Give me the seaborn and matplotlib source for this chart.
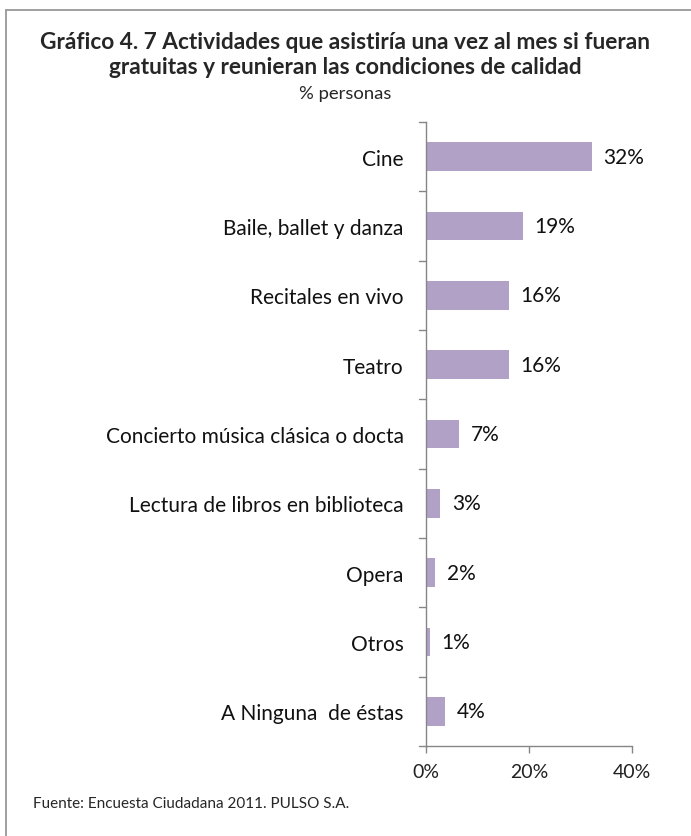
import matplotlib
matplotlib.use("Agg")
import matplotlib.pyplot as plt
import seaborn as sns
import pandas as pd
from matplotlib.lines import Line2D

# data
actividades = [
    "Cine",
    "Baile, ballet y danza",
    "Recitales en vivo",
    "Teatro",
    "Concierto música clásica o docta",
    "Lectura de libros en biblioteca",
    "Opera",
    "Otros",
    "A Ninguna  de éstas",
]
porcentajes = [32.2, 18.8, 16.1, 16.1, 6.5, 2.8, 1.8, 0.7, 3.7]
etiquetas = ["32%", "19%", "16%", "16%", "7%", "3%", "2%", "1%", "4%"]
x_ticks = [0, 20, 40]
x_ticklabels = ["0%", "20%", "40%"]

df = pd.DataFrame({"Actividad": actividades, "Porcentaje": porcentajes})

sns.set_theme(style="white")
plt.rcParams["font.family"] = ["Lato", "DejaVu Sans"]

bar_color = "#B2A1C7"
axis_color = "#868686"

fig = plt.figure(figsize=(6.91, 8.37), dpi=100)
ax = fig.add_axes([0.6165, 0.1075, 0.298, 0.7455])

sns.barplot(data=df, x="Porcentaje", y="Actividad", color=bar_color,
            width=0.41, saturation=1, ax=ax, edgecolor="none")

ax.set_xlim(0, 40)
ax.set_ylim(len(actividades) - 0.5, -0.5)
ax.set_xticks(x_ticks)
ax.set_xticklabels(x_ticklabels, fontsize=14, color="#222222")
ax.set_xlabel("")
ax.set_ylabel("")

# y ticks at category boundaries (Excel style), labels at centres
ax.set_yticks(range(len(actividades)))
ax.set_yticklabels(actividades, fontsize=15, color="#111111")
ax.tick_params(axis="y", length=0, pad=16)
for b in [i + 0.5 for i in range(-1, len(actividades))]:
    ax.plot([-0.035, 0], [b, b], transform=ax.get_yaxis_transform(),
            color=axis_color, lw=1, clip_on=False)
ax.tick_params(axis="x", length=5, color=axis_color, width=1, pad=7,
               direction="out", bottom=True)

for s in ["top", "right"]:
    ax.spines[s].set_visible(False)
for s in ["left", "bottom"]:
    ax.spines[s].set_color(axis_color)
    ax.spines[s].set_linewidth(1)

for i, (v, lab) in enumerate(zip(porcentajes, etiquetas)):
    ax.annotate(lab, xy=(v, i), xytext=(8.5, 0), textcoords="offset points",
                va="center", ha="left", fontsize=15, color="#111111")

fig.text(0.5, 0.949, "Gráfico 4. 7 Actividades que asistiría una vez al mes si fueran",
         ha="center", va="center", fontsize=16.3, fontweight="bold")
fig.text(0.5, 0.919, "gratuitas y reunieran las condiciones de calidad",
         ha="center", va="center", fontsize=16.3, fontweight="bold")
fig.text(0.5, 0.888, "% personas", ha="center", va="center", fontsize=13.3)
fig.text(0.048, 0.04, "Fuente: Encuesta Ciudadana 2011. PULSO S.A.",
         ha="left", va="center", fontsize=11)

# outer frame (only top and left edges visible in the reference)
fig.add_artist(Line2D([0.0087, 0.0087], [0, 0.987], transform=fig.transFigure,
                      color="#999999", lw=1.3))
fig.add_artist(Line2D([0.0087, 1], [0.987, 0.987], transform=fig.transFigure,
                      color="#999999", lw=1.3))

fig.savefig("out.png", dpi=100)
